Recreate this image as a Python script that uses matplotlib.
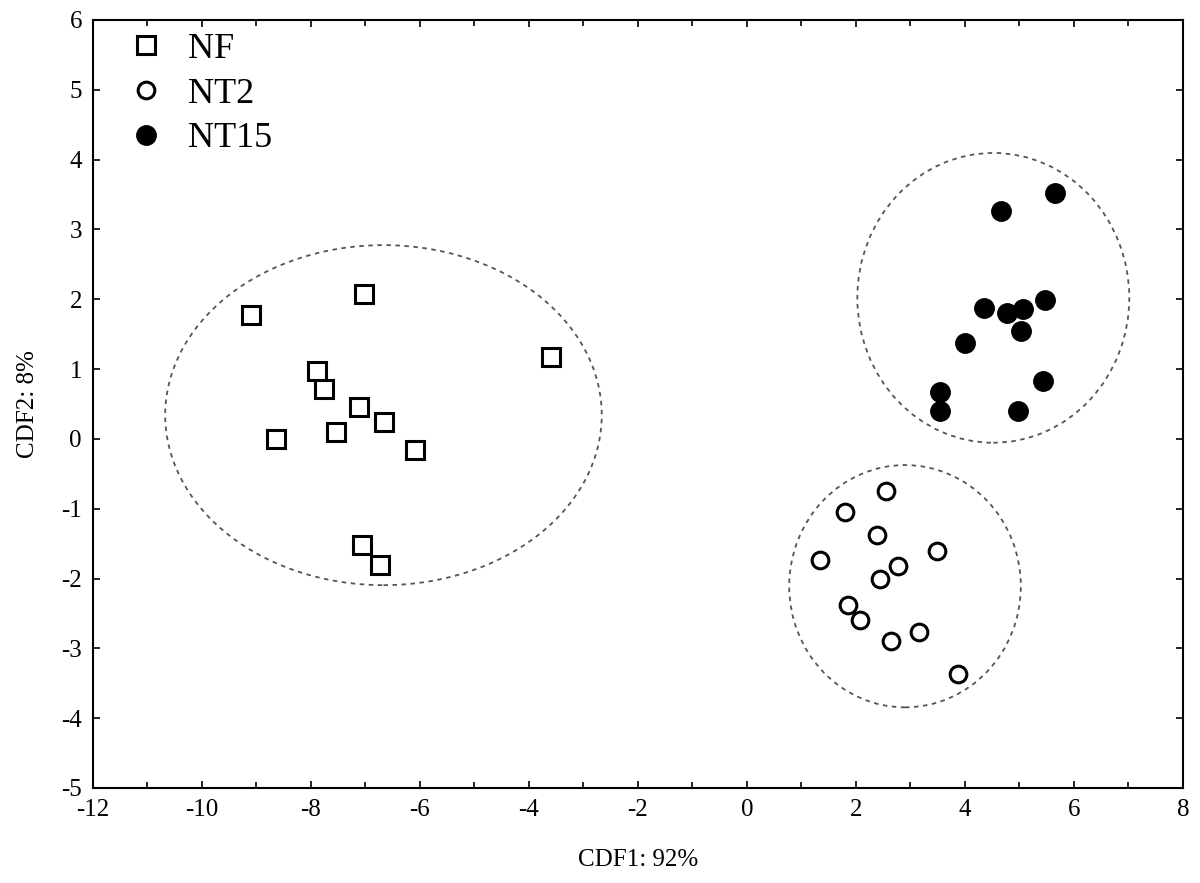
import matplotlib
matplotlib.use('Agg')
import matplotlib.pyplot as plt
from matplotlib.patches import Ellipse
from matplotlib.ticker import MultipleLocator

plt.rcParams['font.family'] = ['Liberation Serif', 'DejaVu Serif']
plt.rcParams['axes.unicode_minus'] = False

# group scores
nf_x = [-9.10, -7.03, -3.60, -7.89, -7.76, -7.12, -6.66, -7.54, -8.64, -6.09, -7.06, -6.73]
nf_y = [1.78, 2.08, 1.17, 0.97, 0.72, 0.46, 0.24, 0.10, 0.00, -0.16, -1.52, -1.81]

nt2_x = [2.56, 1.80, 2.38, 3.48, 1.34, 2.78, 2.44, 1.86, 2.07, 2.65, 3.16, 3.88]
nt2_y = [-0.74, -1.05, -1.37, -1.60, -1.74, -1.82, -2.01, -2.38, -2.60, -2.89, -2.77, -3.37]

nt15_x = [5.65, 4.67, 5.46, 4.35, 4.78, 5.07, 5.03, 4.00, 5.43, 3.54, 3.54, 4.97]
nt15_y = [3.52, 3.26, 1.99, 1.87, 1.80, 1.86, 1.54, 1.37, 0.83, 0.67, 0.40, 0.40]

# dashed group ellipses: centre x, centre y, width, height
ellipses = [(-6.67, 0.34, 8.01, 4.87),
            (2.90, -2.11, 4.25, 3.47),
            (4.52, 2.02, 4.99, 4.15)]

fig = plt.figure(figsize=(12, 8.83), dpi=100)
ax = fig.add_axes([0.0775, 0.1076, 0.9083, 0.8698])

for cx, cy, w, h in ellipses:
    ax.add_patch(Ellipse((cx, cy), w, h, fill=False, ls=(0, (2.5, 2.5)),
                         lw=1.3, ec='#555555'))

ax.plot(nf_x, nf_y, 's', ms=13, mfc='white', mec='black', mew=2.2, label='NF')
ax.plot(nt2_x, nt2_y, 'o', ms=12, mfc='white', mec='black', mew=2.2, label='NT2')
ax.plot(nt15_x, nt15_y, 'o', ms=14, mfc='black', mec='black', label='NT15')

ax.set_xlim(-12, 8)
ax.set_ylim(-5, 6)
ax.xaxis.set_major_locator(MultipleLocator(2))
ax.xaxis.set_minor_locator(MultipleLocator(1))
ax.yaxis.set_major_locator(MultipleLocator(1))
ax.tick_params(which='both', direction='in', top=True, right=True,
               labelsize=18, pad=8)
ax.tick_params(which='major', length=5, width=1.2)
ax.tick_params(which='minor', length=4, width=1.2)
for s in ax.spines.values():
    s.set_linewidth(1.5)

ax.set_xlabel('CDF1: 92%', fontsize=18, labelpad=20)
ax.set_ylabel('CDF2: 8%', fontsize=18, labelpad=16)

ax.legend(loc='upper left', bbox_to_anchor=(0.009, 1.012), frameon=False,
          fontsize=26, handletextpad=0.55, labelspacing=0.32,
          borderaxespad=0.1, handlelength=1.2, borderpad=0.5)

fig.savefig('out.png', dpi=100)
